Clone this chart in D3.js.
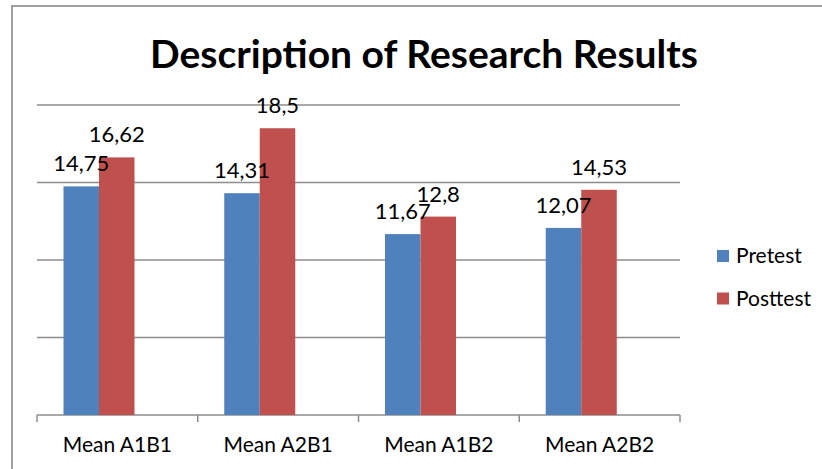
<!DOCTYPE html>
<html>
<head>
<meta charset="utf-8">
<script src="https://cdn.jsdelivr.net/npm/d3@7"></script>
<style>
  body { margin: 0; background: #fff; }
  svg { font-family: Lato, "Open Sans", sans-serif; }
</style>
</head>
<body>
<svg id="chart"></svg>
<script>
const width = 822;
const height = 469;

// chart data
const categories = ['Mean A1B1', 'Mean A2B1', 'Mean A1B2', 'Mean A2B2'];
const seriesNames = ['Pretest', 'Posttest'];
const pretest = [14.75, 14.31, 11.67, 12.07];
const posttest = [16.62, 18.5, 12.8, 14.53];
const colors = ['#4f81bd', '#c0504d'];
const gridTicks = [0, 5, 10, 15, 20];

const rows = categories.map((c, i) => ({
  category: c,
  values: [
    { key: 'Pretest', value: pretest[i] },
    { key: 'Posttest', value: posttest[i] }
  ]
}));

// comma as decimal separator, like the original
const fmt = d3.formatLocale({ decimal: ',', thousands: '.', grouping: [3], currency: ['', ''] }).format('~f');

const margin = { top: 105, left: 37, right: 142, bottom: 54 };
const plotW = width - margin.left - margin.right;
const plotH = height - margin.top - margin.bottom;

const svg = d3.select('#chart')
  .attr('width', width)
  .attr('height', height);

// outer chart frame (only top and left edges show in the picture)
svg.append('path')
  .attr('d', `M12,${height} V6 H${width}`)
  .attr('fill', 'none')
  .attr('stroke', '#a0a0a0')
  .attr('stroke-width', 2);

svg.append('text')
  .attr('x', 424)
  .attr('y', 68)
  .attr('text-anchor', 'middle')
  .style('font-size', '39px')
  .style('font-weight', 'bold')
  .text('Description of Research Results');

const g = svg.append('g')
  .attr('transform', `translate(${margin.left},${margin.top})`);

const x0 = d3.scaleBand()
  .domain(categories)
  .range([0, plotW]);

const bw = x0.bandwidth();
// the bar pair sits left of the band centre, as in the original
const x1 = d3.scaleBand()
  .domain(seriesNames)
  .range([26.5, 97.5]);

const y = d3.scaleLinear()
  .domain([0, 20])
  .range([plotH, 0]);

const color = d3.scaleOrdinal().domain(seriesNames).range(colors);

// gridlines
g.append('g')
  .selectAll('line')
  .data(gridTicks.filter(d => d > 0))
  .join('line')
    .attr('x1', 0)
    .attr('x2', plotW)
    .attr('y1', d => y(d))
    .attr('y2', d => y(d))
    .attr('stroke', '#8c8c8c')
    .attr('stroke-width', 1.5);

// category axis with tick marks between groups
const xAxis = g.append('g')
  .attr('transform', `translate(0,${plotH})`);
xAxis.append('line')
  .attr('x1', 0).attr('x2', plotW)
  .attr('stroke', '#8c8c8c').attr('stroke-width', 1.5);
xAxis.selectAll('.tick-mark')
  .data(d3.range(categories.length + 1))
  .join('line')
    .attr('class', 'tick-mark')
    .attr('x1', i => i * x0.step())
    .attr('x2', i => i * x0.step())
    .attr('y1', 0)
    .attr('y2', 7)
    .attr('stroke', '#8c8c8c')
    .attr('stroke-width', 1.5);
xAxis.selectAll('.cat-label')
  .data(categories)
  .join('text')
    .attr('class', 'cat-label')
    .attr('x', d => x0(d) + bw / 2)
    .attr('y', 37)
    .attr('text-anchor', 'middle')
    .style('font-size', '21px')
    .attr('fill', '#000')
    .text(d => d);

// bars
const groups = g.selectAll('.group')
  .data(rows)
  .join('g')
    .attr('class', 'group')
    .attr('transform', d => `translate(${x0(d.category)},0)`);

groups.selectAll('rect')
  .data(d => d.values)
  .join('rect')
    .attr('x', d => x1(d.key))
    .attr('width', x1.bandwidth())
    .attr('y', d => y(d.value))
    .attr('height', d => plotH - y(d.value))
    .attr('fill', d => color(d.key));

groups.selectAll('.val')
  .data(d => d.values)
  .join('text')
    .attr('class', 'val')
    .attr('x', d => x1(d.key) + x1.bandwidth() / 2)
    .attr('y', d => y(d.value) - 15)
    .attr('text-anchor', 'middle')
    .style('font-size', '22px')
    .attr('fill', '#000')
    .text(d => fmt(d.value));

// legend
const legend = svg.append('g')
  .attr('transform', 'translate(717,250)');
const item = legend.selectAll('g')
  .data(seriesNames)
  .join('g')
    .attr('transform', (d, i) => `translate(0,${i * 42.5})`);
item.append('rect')
  .attr('width', 12)
  .attr('height', 12)
  .attr('fill', d => color(d));
item.append('text')
  .attr('x', 19)
  .attr('y', 13)
  .style('font-size', '21px')
  .text(d => d);
</script>
</body>
</html>
